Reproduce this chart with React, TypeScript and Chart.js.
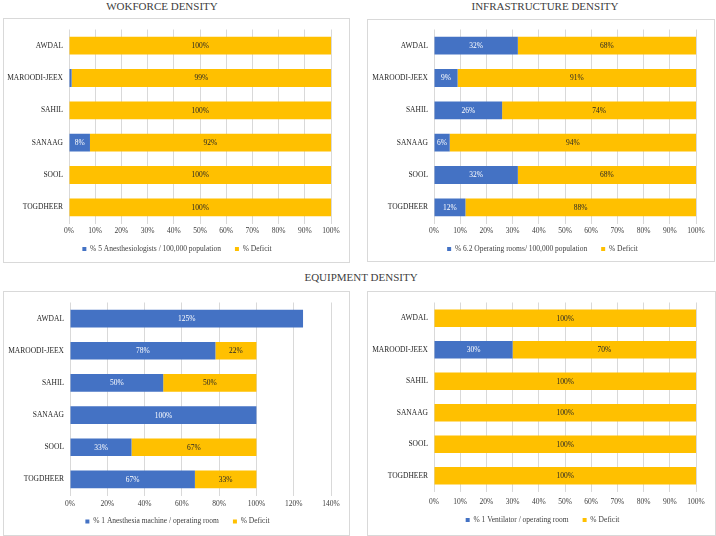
import React, { useEffect, useRef } from "react";
import { Chart, registerables } from "chart.js";

Chart.register(...registerables);

// Regions shown on every panel (top to bottom)
const regions = ["AWDAL", "MAROODI-JEEX", "SAHIL", "SANAAG", "SOOL", "TOGDHEER"];

// Workforce: anesthesiologists per 100,000 population
const workforceMet = [0, 1, 0, 8, 0, 0];
const workforceDeficit = [100, 99, 100, 92, 100, 100];

// Infrastructure: operating rooms per 100,000 population
const infraMet = [32, 9, 26, 6, 32, 12];
const infraDeficit = [68, 91, 74, 94, 68, 88];

// Equipment: anesthesia machines per operating room
const anesthesiaMet = [125, 78, 50, 100, 33, 67];
const anesthesiaDeficit = [0, 22, 50, 0, 67, 33];

// Equipment: ventilators per operating room
const ventilatorMet = [0, 30, 0, 0, 0, 0];
const ventilatorDeficit = [100, 70, 100, 100, 100, 100];

const BLUE = "#4472C4";
const GOLD = "#FFC000";
const SERIF = '"Liberation Serif", "Times New Roman", Times, serif';
const SMALL = 7.5;
const LEGEND_PAD = 14;

// Writes each segment's percentage in the middle of the segment
const valueLabels = {
  id: "valueLabels",
  afterDatasetsDraw(chart: any) {
    const ctx = chart.ctx;
    ctx.save();
    ctx.font = `${SMALL}px ${SERIF}`;
    ctx.textAlign = "center";
    ctx.textBaseline = "middle";
    chart.data.datasets.forEach((ds: any, di: number) => {
      const meta = chart.getDatasetMeta(di);
      meta.data.forEach((bar: any, i: number) => {
        const v = ds.data[i];
        if (v < 3) return;
        const { x, y, base } = bar.getProps(["x", "y", "base"], true);
        ctx.fillStyle = di === 0 ? "#FFFFFF" : "#262626";
        ctx.fillText(`${v}%`, (x + base) / 2, y + 0.5);
      });
    });
    ctx.restore();
  },
};

type PanelProps = {
  left: number;
  top: number;
  width: number;
  height: number;
  yWidth: number;
  padTop: number;
  padRight: number;
  xHeight: number;
  tickPad: number;
  legendY: number;
  legendDx: number;
  xMax: number;
  xStep: number;
  metLabel: string;
  met: number[];
  deficit: number[];
};

function Panel(p: PanelProps) {
  const ref = useRef<HTMLCanvasElement | null>(null);
  useEffect(() => {
    if (!ref.current) return;
    const font = { family: SERIF, size: SMALL };

    // Pulls the legend row up close under the axis labels
    const legendPlace = {
      id: "legendPlace",
      afterLayout(chart: any) {
        const lg = chart.legend;
        if (!lg) return;
        const dy = p.legendY - LEGEND_PAD - SMALL / 2 - lg.top;
        lg.top += dy;
        lg.bottom += dy;
        lg.left += p.legendDx;
        lg.right += p.legendDx;
      },
    };

    const chart = new Chart(ref.current, {
      type: "bar",
      data: {
        labels: regions,
        datasets: [
          { label: p.metLabel, data: p.met, backgroundColor: BLUE, borderWidth: 0 },
          { label: "% Deficit", data: p.deficit, backgroundColor: GOLD, borderWidth: 0 },
        ],
      },
      options: {
        indexAxis: "y",
        animation: false,
        responsive: false,
        devicePixelRatio: 1,
        layout: { padding: { left: 0, top: p.padTop, right: p.padRight, bottom: 0 } },
        datasets: { bar: { categoryPercentage: 1, barPercentage: 0.55 } },
        scales: {
          x: {
            stacked: true,
            min: 0,
            max: p.xMax,
            ticks: {
              stepSize: p.xStep,
              callback: (v: any) => `${v}%`,
              font,
              color: "#404040",
              padding: p.tickPad,
              maxRotation: 0,
              autoSkip: false,
            },
            grid: { color: "#D9D9D9", drawTicks: false },
            border: { display: false },
            afterFit: (s: any) => {
              s.height = p.xHeight;
              s.paddingLeft = 0;
              s.paddingRight = 0;
            },
          },
          y: {
            stacked: true,
            grid: { display: false, drawTicks: false },
            border: { display: false },
            ticks: { font, color: "#262626", padding: 6 },
            afterFit: (s: any) => {
              s.width = p.yWidth;
            },
          },
        },
        plugins: {
          legend: {
            position: "bottom",
            labels: { boxWidth: 4, boxHeight: 4, padding: LEGEND_PAD, font, color: "#404040" },
          },
          tooltip: { enabled: false },
        },
      } as any,
      plugins: [valueLabels, legendPlace],
    });
    return () => chart.destroy();
  }, []);
  return (
    <canvas
      ref={ref}
      width={p.width}
      height={p.height}
      style={{ position: "absolute", left: p.left, top: p.top, width: p.width, height: p.height }}
    />
  );
}

const box = (left: number, top: number, right: number, bottom: number): React.CSSProperties => ({
  position: "absolute",
  left,
  top,
  width: right - left - 1,
  height: bottom - top - 1,
  border: "1px solid #D9D9D9",
});

const titleStyle = (center: number, top: number): React.CSSProperties => ({
  position: "absolute",
  left: center - 150,
  width: 300,
  top,
  textAlign: "center",
  fontFamily: SERIF,
  fontSize: 11,
  lineHeight: "12px",
  color: "#404040",
  whiteSpace: "nowrap",
});

export default function App() {
  return (
    <div
      style={{
        position: "absolute",
        left: 0,
        top: 0,
        width: 716,
        height: 536,
        background: "#FFFFFF",
        overflow: "hidden",
      }}
    >
      <div style={box(3, 18, 349, 262)} />
      <div style={box(367, 19, 714, 261)} />
      <div style={box(3, 291, 349, 535)} />
      <div style={box(367, 291, 715, 535)} />

      <div style={titleStyle(162, 0)}>WOKFORCE DENSITY</div>
      <div style={titleStyle(545, 0)}>INFRASTRUCTURE DENSITY</div>
      <div style={titleStyle(361, 271)}>EQUIPMENT DENSITY</div>

      <Panel
        left={4} top={19} width={341} height={252}
        yWidth={65} padTop={9.75} padRight={14}
        xHeight={16} tickPad={3} legendY={230} legendDx={9.5}
        xMax={100} xStep={10}
        metLabel="% 5 Anesthesiologists / 100,000 population"
        met={workforceMet} deficit={workforceDeficit}
      />
      <Panel
        left={368} top={19} width={344} height={252}
        yWidth={66} padTop={9.75} padRight={16}
        xHeight={16} tickPad={3} legendY={230} legendDx={10.5}
        xMax={100} xStep={10}
        metLabel="% 6.2 Operating rooms/ 100,000 population"
        met={infraMet} deficit={infraDeficit}
      />
      <Panel
        left={4} top={292} width={341} height={251}
        yWidth={66} padTop={7.7} padRight={14}
        xHeight={16} tickPad={4} legendY={229.5} legendDx={10}
        xMax={140} xStep={20}
        metLabel="% 1 Anesthesia machine / operating room"
        met={anesthesiaMet} deficit={anesthesiaDeficit}
      />
      <Panel
        left={368} top={292} width={344} height={247}
        yWidth={66} padTop={8.9} padRight={16}
        xHeight={16} tickPad={6} legendY={228} legendDx={10.5}
        xMax={100} xStep={10}
        metLabel="% 1 Ventilator / operating room"
        met={ventilatorMet} deficit={ventilatorDeficit}
      />
    </div>
  );
}
